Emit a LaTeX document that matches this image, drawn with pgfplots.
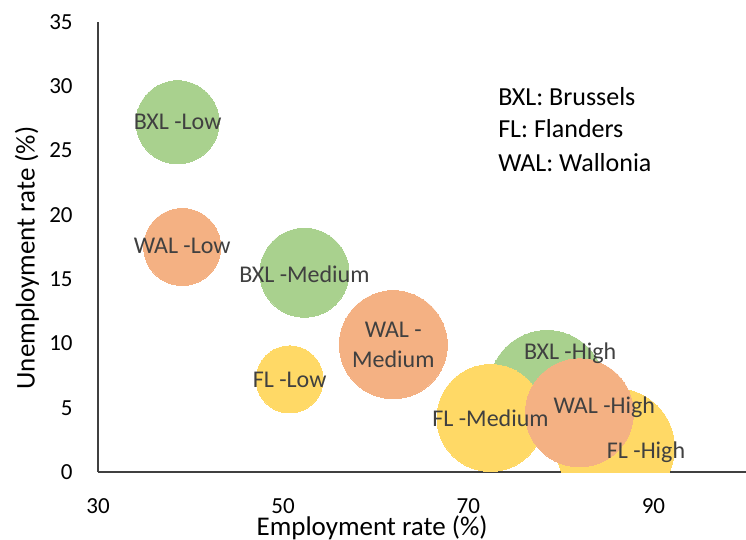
\documentclass[border=0pt]{standalone}
\usepackage{pgfplots}
\pgfplotsset{compat=1.18}
\usepackage{pgfplotstable}
\usepackage{fontspec}
\setmainfont{Carlito}
\definecolor{bxl}{HTML}{A9D18E}
\definecolor{fl}{HTML}{FFD966}
\definecolor{wal}{HTML}{F4B183}
\definecolor{lab}{HTML}{404040}
\definecolor{axc}{HTML}{404040}
\tikzset{
  lbl/.style={font=\fontsize{12}{15}\selectfont, text=lab, inner sep=0pt, align=center},
  leg/.style={font=\fontsize{13}{16}\selectfont, text=black, inner sep=0pt, anchor=base west},
}
\pgfplotsset{
  bubble/.style={scatter, only marks, mark=*,
    scatter/use mapped color={draw=#1, fill=#1, line width=0pt},
    visualization depends on={\thisrow{r}\as\bubblerad},
    scatter/@pre marker code/.append style={/tikz/mark size=\bubblerad pt}},
}

% x = employment rate, y = unemployment rate, r = bubble radius (pt)
\pgfplotstableread{
x    y    r
38.6 27.2 20.75
52.3 15.5 22.25
78.5 6.5  29
}\bxltab
\pgfplotstableread{
x    y    r
50.7 7.2  16.75
72.4 4.2  26.75
85.9 1.9  29.5
}\fltab
\pgfplotstableread{
x    y    r
39.1 17.5 19.25
61.9 9.9  27
82.0 4.6  27
}\waltab

\begin{document}
\begin{tikzpicture}
\begin{axis}[name=ax, scale only axis, width=324pt, height=225pt,
  xmin=30, xmax=100, ymin=0, ymax=35,
  xtick={30,50,70,90}, ytick={0,5,...,35},
  axis x line=bottom, axis y line=left,
  axis line style={-, draw=axc, line width=0.75pt},
  major tick length=0pt,
  /pgf/number format/assume math mode=true,
  ticklabel style={font=\fontsize{11.5}{13}\selectfont, text=black},
  xticklabel style={anchor=north, inner sep=0pt, yshift=-13pt},
  yticklabel style={anchor=east, inner sep=0pt, xshift=-12.5pt},
  xlabel={Employment rate (\%)}, ylabel={Unemployment rate (\%)},
  label style={font=\fontsize{13.5}{16}\selectfont},
  xlabel style={at={(axis description cs:0.423,-0.1422)}, anchor=base},
  ylabel style={at={(axis description cs:-0.1096,0.4756)}, anchor=center},
  clip marker paths=true,
]
\addplot[bubble=bxl] table[x=x,y=y] {\bxltab};
\addplot[bubble=fl] table[x=x,y=y] {\fltab};
\addplot[bubble=wal] table[x=x,y=y] {\waltab};

\node[lbl] at (axis cs:38.6,27.2) {BXL -Low};
\node[lbl] at (axis cs:39.1,17.6) {WAL -Low};
\node[lbl] at (axis cs:52.3,15.4) {BXL -Medium};
\node[lbl] at (axis cs:50.7,7.2) {FL -Low};
\node[lbl] at (axis cs:61.9,9.9) {WAL -\\Medium};
\node[lbl] at (axis cs:81.0,9.25) {BXL -High};
\node[lbl] at (axis cs:72.4,4.2) {FL -Medium};
\node[lbl] at (axis cs:84.7,5.0) {WAL -High};
\node[lbl] at (axis cs:89.2,1.5) {FL -High};

\node[leg] at (axis cs:73.2,28.54) {BXL: Brussels};
\node[leg] at (axis cs:73.2,25.98) {FL: Flanders};
\node[leg] at (axis cs:73.2,23.41) {WAL: Wallonia};
\end{axis}
\pgfresetboundingbox
\useasboundingbox ([shift={(-49pt,-33.5pt)}]ax.south west) rectangle ([shift={(0pt,11pt)}]ax.north east);
\end{tikzpicture}
\end{document}
